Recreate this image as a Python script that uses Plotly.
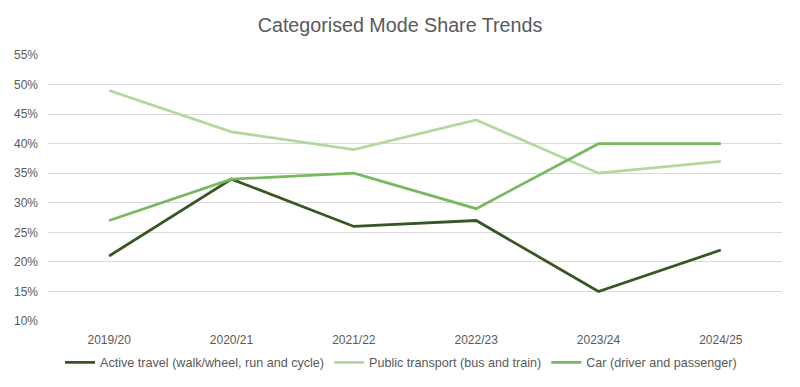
import plotly.graph_objects as go

years = ["2019/20", "2020/21", "2021/22", "2022/23", "2023/24", "2024/25"]
active_travel = [21, 34, 26, 27, 15, 22]
public_transport = [49, 42, 39, 44, 35, 37]
car = [27, 34, 35, 29, 40, 40]

series_names = [
    "Active travel (walk/wheel, run and cycle)",
    "Public transport (bus and train)",
    "Car (driver and passenger)",
]
colors = ["#375623", "#B1D99E", "#78B862"]

fig = go.Figure()
for name, vals, col in zip(series_names, [active_travel, public_transport, car], colors):
    fig.add_trace(go.Scatter(x=years, y=vals, mode="lines", name=name,
                             line=dict(color=col, width=2.75)))

fig.update_layout(
    width=800, height=387,
    paper_bgcolor="white", plot_bgcolor="white",
    font=dict(family="Liberation Sans, Arial, sans-serif", color="#595959", size=12),
    title=dict(text="Categorised Mode Share Trends", x=0.5, xanchor="center",
               y=0.935, yanchor="middle", automargin=False,
               font=dict(size=19.7, color="#595959")),
    margin=dict(l=48, r=18, t=55, b=66),
    showlegend=True,
    legend=dict(orientation="h", x=0.481, xanchor="center",
                yref="container", y=0.063, yanchor="middle",
                font=dict(size=12.6, color="#595959"),
                itemwidth=30, tracegroupgap=0),
    xaxis=dict(type="category", range=[-0.5, 5.5], showgrid=False, zeroline=False,
               showline=False, ticks="", automargin=False, ticklabelstandoff=10,
               tickfont=dict(size=12, color="#595959")),
    yaxis=dict(range=[10, 55], dtick=5, tick0=10, ticksuffix="%",
               showgrid=True, gridcolor="#D9D9D9", gridwidth=1,
               zeroline=False, showline=False, ticks="", automargin=False,
               ticklabelstandoff=9,
               tickfont=dict(size=12, color="#595959")),
)

fig.write_html("out.html",
               config={"displayModeBar": False},
               post_script="document.body.style.margin='0';document.body.style.padding='0';")
